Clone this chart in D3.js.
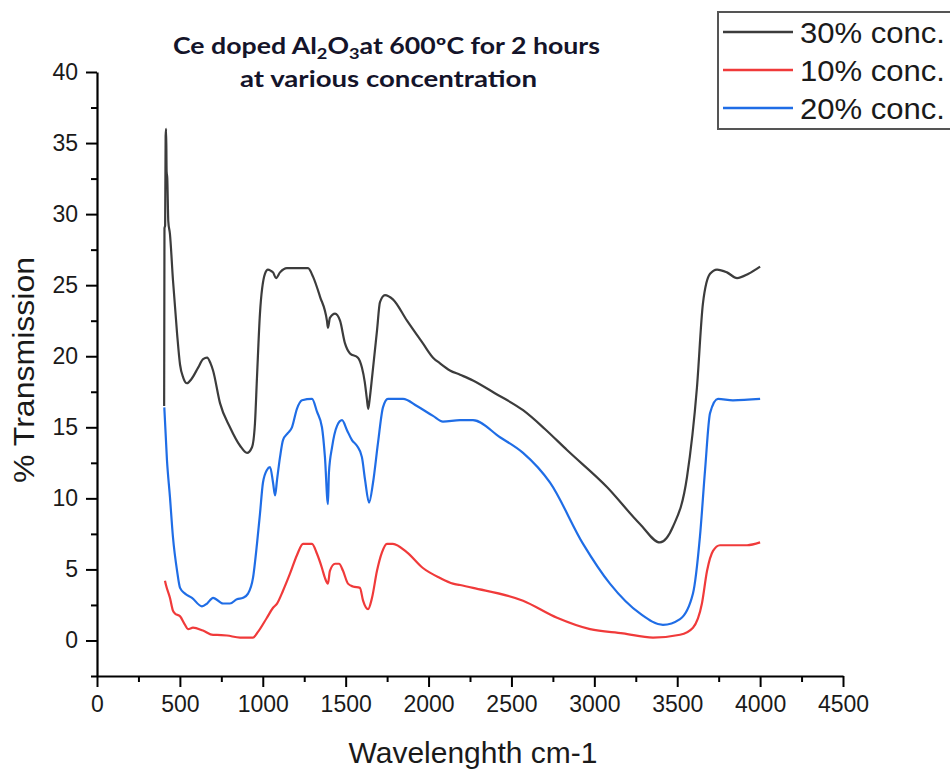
<!DOCTYPE html>
<html>
<head>
<meta charset="utf-8">
<script src="https://cdn.jsdelivr.net/npm/d3@7"></script>
<style>
  html, body { margin: 0; padding: 0; background: #fff; }
  svg { display: block; }
</style>
</head>
<body>
<svg id="chart" width="950" height="769"></svg>
<script>
// ---- Data ----
const seriesNames = ["30% conc.", "10% conc.", "20% conc."];
const seriesColors = ["#3c3c3c", "#f03a3a", "#1f6de6"];

const xTicks = [0, 500, 1000, 1500, 2000, 2500, 3000, 3500, 4000, 4500];
const yTicks = [0, 5, 10, 15, 20, 25, 30, 35, 40];

// 30% conc. (black)
const wn30 = [405,407,411,414,417,420,424,430,440,458,483,501,520,543,570,610,640,664,685,700,742,802,863,905,935,953,965,983,1013,1031,1050,1062,1080,1104,1146,1273,1303,1345,1387,1393,1405,1436,1466,1496,1526,1574,1598,1615,1628,1636,1645,1660,1689,1707,1737,1785,1870,1966,2027,2069,2129,2190,2268,2400,2570,2700,2835,3076,3275,3396,3474,3559,3619,3655,3698,3740,3800,3861,3930,4000];
const t30  = [16.5,29.0,29.2,35.5,36.0,33.0,32.5,29.5,28.6,25.4,21.6,19.4,18.5,18.1,18.4,19.2,19.8,19.9,19.5,19.0,16.7,15.0,13.7,13.2,13.6,15.3,18.5,23.0,25.8,26.1,26.0,25.9,25.5,25.9,26.2,26.2,25.6,24.2,22.5,22.0,22.7,23.0,22.5,20.9,20.2,19.9,19.2,18.2,17.0,16.3,17.0,18.6,21.8,23.8,24.3,24.0,22.5,20.9,19.9,19.5,19.0,18.7,18.3,17.4,16.2,14.9,13.4,10.8,8.2,6.9,8.0,11.5,17.8,23.7,25.8,26.1,25.9,25.5,25.8,26.3];

// 10% conc. (red)
const wn10 = [410,416,440,458,470,501,531,549,579,639,700,724,784,863,941,971,1025,1062,1086,1122,1164,1206,1243,1297,1327,1357,1375,1393,1405,1436,1460,1484,1514,1544,1586,1605,1635,1659,1689,1719,1749,1785,1870,1966,2069,2147,2190,2268,2570,2775,2974,3173,3354,3517,3595,3649,3680,3716,3758,3921,4000];
const t10  = [4.2,3.9,3.0,2.1,1.9,1.7,1.1,0.8,0.9,0.7,0.4,0.4,0.35,0.2,0.2,0.6,1.6,2.3,2.6,3.5,4.7,6.0,6.8,6.8,6.1,5.1,4.4,4.0,4.9,5.4,5.4,4.9,4.0,3.8,3.7,2.8,2.2,3.0,4.9,6.2,6.8,6.8,6.2,5.1,4.4,4.0,3.9,3.7,2.8,1.6,0.8,0.5,0.2,0.4,0.9,2.6,4.9,6.3,6.7,6.7,6.9];

// 20% conc. (blue)
const wn20 = [406,422,440,458,483,501,531,573,633,664,700,760,802,844,881,911,941,965,983,1001,1025,1044,1062,1074,1086,1104,1122,1152,1176,1206,1237,1297,1327,1357,1375,1393,1399,1418,1448,1478,1508,1538,1568,1598,1617,1641,1665,1695,1725,1755,1846,1930,2027,2087,2190,2268,2431,2570,2733,2932,3094,3275,3414,3517,3595,3637,3668,3698,3746,3836,4000];
const t20  = [16.4,12.7,10.1,7.3,4.9,3.7,3.3,3.0,2.4,2.6,3.0,2.6,2.6,2.9,3.0,3.3,4.4,6.8,8.9,11.1,12.0,12.2,11.1,10.2,11.3,12.9,14.1,14.6,15.0,16.3,16.9,17.0,16.1,15.0,12.9,9.6,11.8,13.6,15.1,15.5,14.8,14.1,13.7,12.9,11.3,9.7,11.1,13.9,16.4,17.0,17.0,16.5,15.8,15.4,15.5,15.5,14.3,13.2,11.1,6.8,4.0,1.9,1.1,1.5,3.3,7.3,12.0,16.0,17.0,16.9,17.0];

// ---- Chart ----
const svg = d3.select("#chart");
const x = d3.scaleLinear().domain([0, 4500]).range([97, 843]);
const y = d3.scaleLinear().domain([-2.5, 40]).range([676, 72]);

const FONT = "'Liberation Sans', Arial, sans-serif";

// minor ticks
const xMinor = d3.range(250, 4500, 500);
const yMinor = d3.range(-2.5, 40, 5);

const gx = svg.append("g").attr("transform", `translate(0,${y(-2.5)})`);
gx.call(d3.axisBottom(x).tickValues(xMinor).tickSize(6).tickSizeOuter(0).tickFormat(""));
gx.call(g => g.selectAll(".tick line").attr("stroke", "#000").attr("stroke-width", 2));
const gx2 = svg.append("g").attr("transform", `translate(0,${y(-2.5)})`);
gx2.call(d3.axisBottom(x).tickValues(xTicks).tickSize(11).tickSizeOuter(0).tickPadding(9).tickFormat(d3.format("d")));
gx2.select(".domain").attr("stroke", "#000").attr("stroke-width", 2.2);
gx2.selectAll(".tick line").attr("stroke", "#000").attr("stroke-width", 2);
gx2.selectAll(".tick text").attr("font-family", FONT).attr("font-size", 23).attr("fill", "#1a1a1a");

const gy = svg.append("g").attr("transform", `translate(${x(0)},0)`);
gy.call(d3.axisLeft(y).tickValues(yMinor).tickSize(6).tickSizeOuter(0).tickFormat(""));
gy.selectAll(".tick line").attr("stroke", "#000").attr("stroke-width", 2);
const gy2 = svg.append("g").attr("transform", `translate(${x(0)},0)`);
gy2.call(d3.axisLeft(y).tickValues(yTicks).tickSize(11).tickSizeOuter(0).tickPadding(8).tickFormat(d3.format("d")));
gy2.select(".domain").attr("stroke", "#000").attr("stroke-width", 2.2);
gy2.selectAll(".tick line").attr("stroke", "#000").attr("stroke-width", 2);
gy2.selectAll(".tick text").attr("font-family", FONT).attr("font-size", 23).attr("fill", "#1a1a1a");
gx.select(".domain").remove();
gy.select(".domain").remove();

// lines
const series = [
  { wn: wn30, t: t30, color: seriesColors[0] },
  { wn: wn10, t: t10, color: seriesColors[1] },
  { wn: wn20, t: t20, color: seriesColors[2] }
];
const line = d3.line().x(d => x(d[0])).y(d => y(d[1])).curve(d3.curveMonotoneX);
series.forEach(s => {
  svg.append("path")
    .datum(s.wn.map((w, i) => [w, s.t[i]]))
    .attr("fill", "none")
    .attr("stroke", s.color)
    .attr("stroke-width", 2.2)
    .attr("stroke-linejoin", "round")
    .attr("d", line);
});

// axis titles
svg.append("text")
  .attr("x", 473).attr("y", 763)
  .attr("text-anchor", "middle")
  .attr("font-family", FONT).attr("font-size", 30).attr("fill", "#1a1a1a")
  .text("Wavelenghth cm-1");

svg.append("text")
  .attr("transform", "translate(34,370) rotate(-90)")
  .attr("text-anchor", "middle")
  .attr("font-family", FONT).attr("font-size", 30).attr("fill", "#1a1a1a")
  .attr("textLength", 226).attr("lengthAdjust", "spacingAndGlyphs")
  .text("% Transmission");

// title
const TFONT = "Lato, 'Open Sans', sans-serif";
const t1 = svg.append("text")
  .attr("x", 173).attr("y", 54)
  .attr("font-family", TFONT).attr("font-weight", "bold").attr("font-size", 22).attr("fill", "#14142a")
  .attr("textLength", 427).attr("lengthAdjust", "spacingAndGlyphs");
t1.append("tspan").text("Ce doped Al");
t1.append("tspan").attr("dy", 5).attr("font-size", 15).text("2");
t1.append("tspan").attr("dy", -5).text("O");
t1.append("tspan").attr("dy", 5).attr("font-size", 15).text("3");
t1.append("tspan").attr("dy", -5).text("at 600ºC  for 2 hours");

svg.append("text")
  .attr("x", 240).attr("y", 87)
  .attr("font-family", TFONT).attr("font-weight", "bold").attr("font-size", 22).attr("fill", "#14142a")
  .attr("textLength", 297).attr("lengthAdjust", "spacingAndGlyphs")
  .text("at various concentration");

// legend
const lg = svg.append("g");
lg.append("rect")
  .attr("x", 718).attr("y", 12).attr("width", 260).attr("height", 117)
  .attr("fill", "#fff").attr("stroke", "#555").attr("stroke-width", 2);
const legY = [32, 70, 108];
seriesNames.forEach((name, i) => {
  lg.append("line")
    .attr("x1", 723).attr("x2", 793).attr("y1", legY[i]).attr("y2", legY[i])
    .attr("stroke", seriesColors[i]).attr("stroke-width", 2.5);
  lg.append("text")
    .attr("x", 800).attr("y", legY[i] + 11)
    .attr("font-family", FONT).attr("font-size", 30).attr("fill", "#1a1a1a")
    .attr("textLength", 145).attr("lengthAdjust", "spacingAndGlyphs")
    .text(name);
});
</script>
</body>
</html>
